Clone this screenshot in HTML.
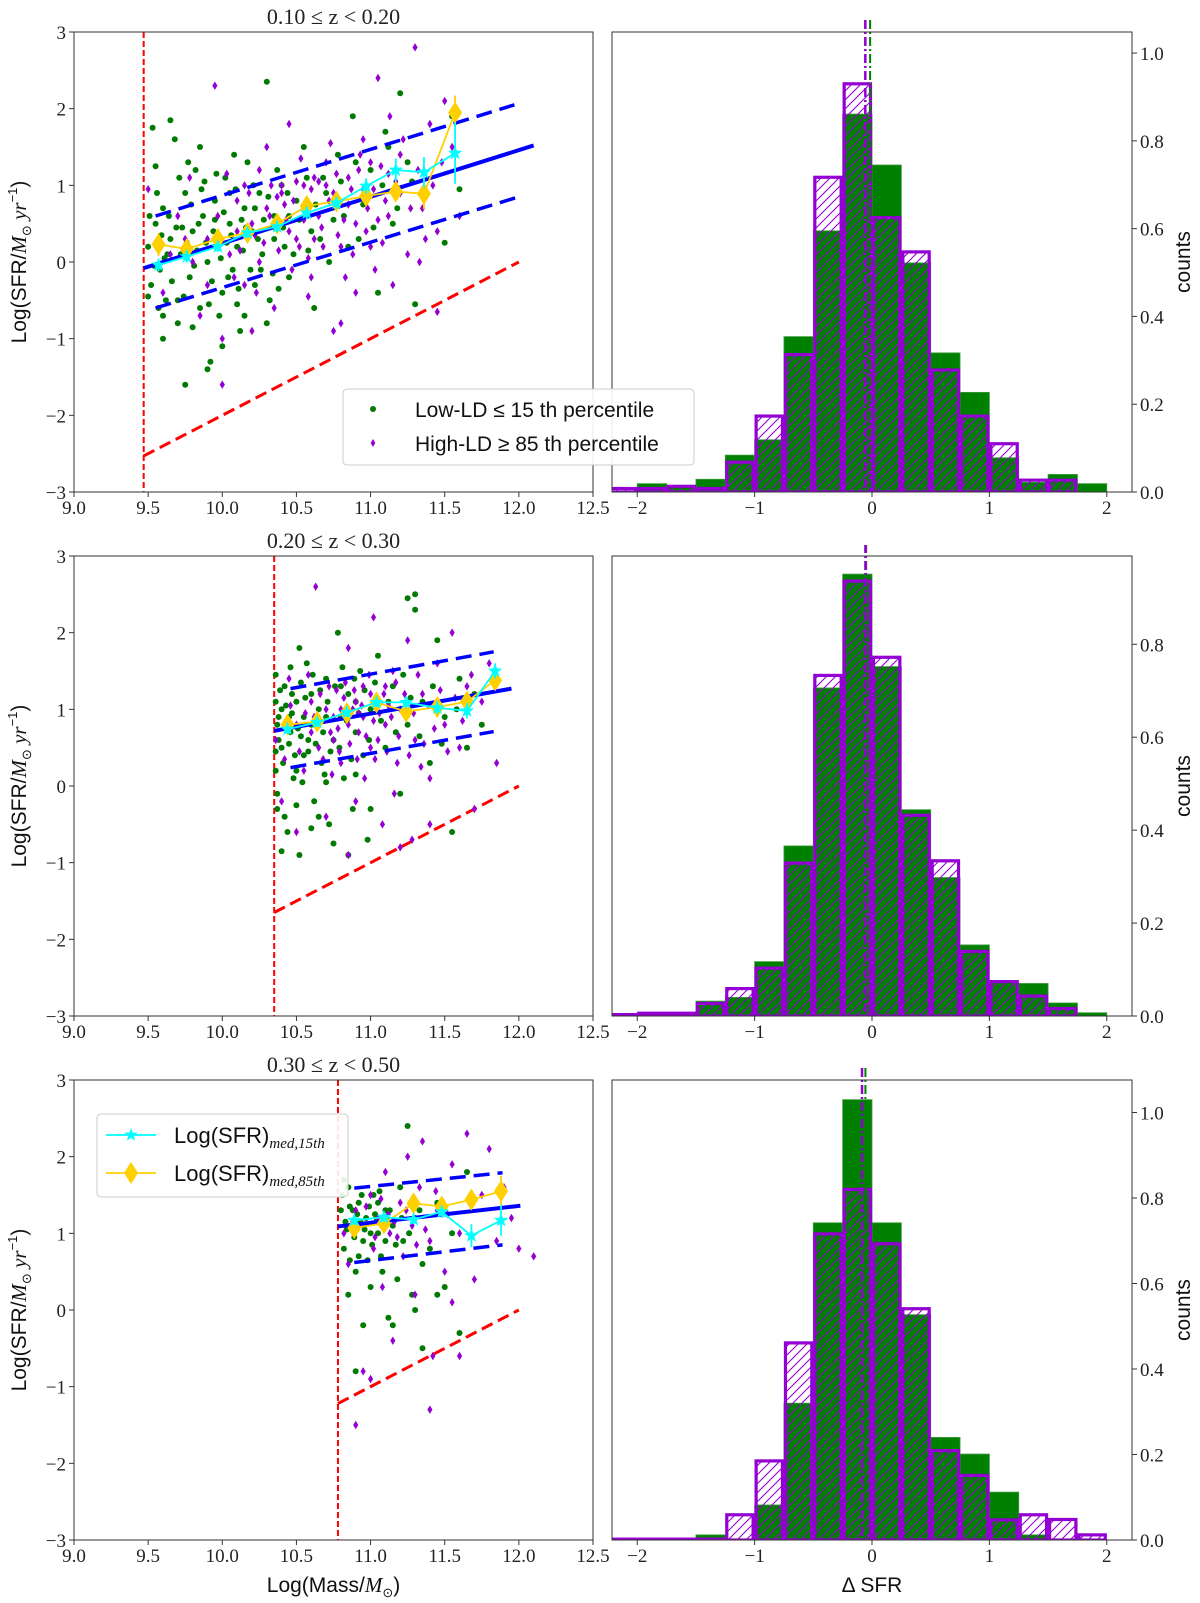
<!DOCTYPE html>
<html><head><meta charset="utf-8">
<style>
html,body{margin:0;padding:0;background:#fff;}
svg{display:block;}
.tk{font-family:"Liberation Serif",serif;font-size:19px;fill:#222;}
.lbl{font-family:"Liberation Sans",sans-serif;font-size:21px;fill:#111;}
</style></head>
<body>
<svg id="fig" width="1200" height="1603" viewBox="0 0 1200 1603" xmlns="http://www.w3.org/2000/svg">
<defs>
<pattern id="hatch" patternUnits="userSpaceOnUse" width="9" height="9">
<path d="M-2,11 L11,-2 M-2,2 L2,-2 M7,11 L11,7" stroke="#9400D3" stroke-width="1.1"/>
</pattern>
<clipPath id="cl0"><rect x="74" y="32" width="519" height="460"/></clipPath>
<clipPath id="cl1"><rect x="74" y="556" width="519" height="460"/></clipPath>
<clipPath id="cl2"><rect x="74" y="1080" width="519" height="460"/></clipPath>
<clipPath id="cr0"><rect x="612" y="20" width="520" height="472"/></clipPath>
<clipPath id="cr1"><rect x="612" y="545" width="520" height="471"/></clipPath>
<clipPath id="cr2"><rect x="612" y="1068" width="520" height="472"/></clipPath>
</defs>
</svg>
<script>
// ---------- DATA ----------
const rowTitles = ["0.10 \u2264 z < 0.20","0.20 \u2264 z < 0.30","0.30 \u2264 z < 0.50"];
const massTicks = [9.0,9.5,10.0,10.5,11.0,11.5,12.0,12.5];
const sfrTicks = [-3,-2,-1,0,1,2,3];
const dTicks = [-2,-1,0,1,2];
const countTicks0 = [0.0,0.2,0.4,0.6,0.8,1.0];
const countTicks1 = [0.0,0.2,0.4,0.6,0.8];
const countTicks2 = [0.0,0.2,0.4,0.6,0.8,1.0];
const countMax = [1.048,0.99,1.076];
const massLimit = [9.47,10.35,10.78];

const binStart = -2.25, binWidth = 0.25;
const green0 = [0,0.019,0.013,0.029,0.084,0.119,0.354,0.595,0.861,0.745,0.522,0.317,0.227,0.078,0.022,0.040,0.019];
const purple0 = [0.008,0.008,0.013,0.008,0.068,0.173,0.313,0.717,0.930,0.625,0.547,0.278,0.173,0.110,0.027,0.027,0];
const green1 = [0,0.006,0.004,0.032,0.040,0.117,0.366,0.706,0.951,0.752,0.444,0.298,0.153,0.072,0.070,0.028,0.007];
const purple1 = [0.003,0.006,0.006,0.027,0.059,0.103,0.329,0.733,0.936,0.772,0.432,0.334,0.139,0.074,0.043,0.016,0];
const green2 = [0,0,0,0.012,0,0.082,0.320,0.742,1.03,0.742,0.527,0.240,0.201,0.112,0.012,0,0];
const purple2 = [0.002,0.002,0.002,0.002,0.059,0.185,0.461,0.716,0.820,0.693,0.541,0.209,0.151,0.047,0.059,0.048,0.012];
const medPurple = [-0.057,-0.056,-0.085];
const medGreen = [-0.016,-0.05,-0.056];

const msSolid = [[9.47,-0.08,12.1,1.52],[10.35,0.72,11.95,1.27],[10.78,1.09,12.01,1.36]];
const msUpper = [[9.55,0.6,11.97,2.05],[10.46,1.27,11.83,1.75],[10.89,1.59,11.89,1.79]];
const msLower = [[9.55,-0.6,12.0,0.85],[10.46,0.24,11.83,0.71],[10.89,0.62,11.89,0.85]];
const cutEnd = [12.0,0.0];

const medMass0 = [9.57,9.76,9.97,10.17,10.37,10.57,10.77,10.97,11.17,11.36,11.57];
const medCyan0 = [-0.04,0.07,0.2,0.38,0.46,0.64,0.77,0.99,1.2,1.17,1.42];
const errCyan0 = [0.08,0.08,0.07,0.07,0.07,0.08,0.08,0.1,0.15,0.2,0.4];
const medGold0 = [0.23,0.17,0.30,0.38,0.50,0.73,0.79,0.86,0.92,0.89,1.95];
const errGold0 = [0.15,0.1,0.08,0.08,0.08,0.1,0.08,0.1,0.1,0.2,0.22];
const medMass1 = [10.44,10.64,10.84,11.04,11.24,11.45,11.65,11.84];
const medCyan1 = [0.74,0.83,0.96,1.09,1.09,1.02,0.98,1.50];
const errCyan1 = [0.06,0.06,0.06,0.06,0.08,0.08,0.1,0.1];
const medGold1 = [0.80,0.84,0.95,1.09,0.97,1.03,1.10,1.38];
const errGold1 = [0.06,0.06,0.06,0.06,0.08,0.08,0.12,0.12];
const medMass2 = [10.89,11.09,11.29,11.48,11.68,11.88];
const medCyan2 = [1.17,1.21,1.18,1.28,0.97,1.17];
const errCyan2 = [0.06,0.06,0.06,0.08,0.15,0.2];
const medGold2 = [1.07,1.13,1.39,1.35,1.44,1.55];
const errGold2 = [0.06,0.06,0.06,0.08,0.1,0.2];

const lowLD0a = [[9.5,0.2],[9.52,-0.3],[9.55,0.5],[9.58,-0.1],[9.6,0.7],[9.62,-0.5],[9.65,0.3],[9.68,1.6],[9.7,-0.8],[9.72,0.1],[9.75,0.9],[9.78,-0.2],[9.8,0.4],[9.82,1.2],[9.85,-0.6],[9.87,0.6],[9.9,0.0],[9.92,-1.3],[9.95,0.8],[9.97,0.3],[10.0,-0.4],[10.02,1.1],[10.05,0.5],[10.07,-0.1],[10.1,0.2],[10.12,-0.9],[10.15,0.7],[10.17,1.3],[10.2,0.4],[10.22,-0.3],[10.25,0.9],[10.27,0.1],[10.3,2.35],[10.32,-0.5],[10.35,0.6],[10.4,1.0],[10.42,0.2],[10.45,-0.2],[10.5,0.8],[10.55,1.5],[10.6,0.4],[10.62,-0.6],[10.68,1.1],[10.72,0.0],[10.78,1.4],[10.82,0.6],[10.88,1.9],[10.92,0.3],[11.0,1.2],[11.05,-0.4],[11.1,1.7],[11.15,0.5],[11.2,2.2],[11.25,1.3],[11.3,-0.55],[11.35,0.9],[11.5,0.25],[11.55,1.9],[11.6,0.95],[9.6,-1.0],[9.75,-1.6],[9.9,-1.4],[10.0,-1.1],[9.65,1.85],[9.85,1.5],[10.15,-0.7],[10.45,0.6],[9.53,1.75],[10.22,0.7],[10.35,0.3],[9.95,0.55],[10.05,0.9],[9.63,0.1],[9.73,0.45],[9.83,0.15],[9.93,-0.25],[10.03,0.25],[10.13,0.55],[10.26,-0.1],[9.57,-0.6],[9.88,1.05],[10.08,1.4],[9.98,-0.7],[10.38,-0.35],[10.58,0.15]];
const lowLD0b = [[9.51,0.6],[9.54,-0.05],[9.56,0.9],[9.59,0.35],[9.61,0.05],[9.64,0.6],[9.66,-0.25],[9.69,0.45],[9.71,1.1],[9.74,-0.45],[9.76,0.25],[9.79,0.75],[9.81,-0.05],[9.84,0.5],[9.86,0.95],[9.89,0.25],[9.91,-0.55],[9.94,0.4],[9.96,1.15],[9.99,0.05],[10.01,0.65],[10.04,-0.2],[10.06,0.35],[10.09,0.95],[10.11,-0.35],[10.14,0.15],[10.16,0.45],[10.19,-0.1],[10.21,1.0],[10.24,0.3],[10.28,0.55],[10.31,0.85],[10.34,-0.15],[10.37,1.2],[10.41,0.45],[10.44,0.9],[10.48,0.1],[10.52,0.55],[10.57,1.1],[10.63,0.75],[10.66,0.3],[10.7,0.9],[10.75,0.55],[10.8,1.05],[10.85,0.2],[10.9,1.3],[10.95,0.75],[11.02,0.45],[11.08,1.0],[11.12,1.5],[11.18,0.7],[11.28,1.05],[9.6,-0.7],[9.7,-0.5],[9.8,-0.85],[10.1,-0.55],[10.3,-0.8],[9.5,-0.45],[9.55,1.25],[9.77,1.3]];
const highLD0a = [[9.5,0.95],[9.6,-0.4],[9.7,0.6],[9.78,1.1],[9.85,-0.7],[9.9,0.3],[9.95,2.3],[10.0,-1.0],[10.05,0.1],[10.1,0.8],[10.15,-0.3],[10.2,0.5],[10.25,1.2],[10.3,0.7],[10.35,-0.6],[10.4,0.9],[10.45,1.8],[10.5,0.3],[10.55,1.0],[10.6,-0.2],[10.65,0.6],[10.7,1.3],[10.75,0.9],[10.8,-0.8],[10.85,1.1],[10.9,0.5],[10.95,1.6],[11.0,0.2],[11.05,2.4],[11.1,0.8],[11.15,-0.3],[11.2,1.4],[11.25,0.1],[11.3,2.8],[11.35,0.7],[11.4,1.8],[11.45,0.4],[11.5,2.1],[11.55,1.5],[11.6,0.6],[10.4,1.0],[10.5,1.05],[10.6,0.95],[10.7,1.0],[10.45,0.4],[10.55,0.55],[10.8,0.2],[10.9,-0.4],[11.0,1.3],[10.25,0.0],[10.35,0.45],[10.1,0.4],[9.8,0.0],[9.9,-0.3],[11.45,-0.65],[10.75,-0.9],[10.2,-0.9],[10.0,-1.6],[10.3,1.5],[11.2,0.9],[10.65,1.05],[10.85,0.75],[10.95,0.95],[11.05,0.55],[10.42,0.75],[10.62,0.3],[11.12,1.15],[10.18,0.9],[10.28,0.25]];
const highLD0b = [[10.12,0.15],[10.22,0.35],[10.32,0.6],[10.38,0.15],[10.43,0.55],[10.48,0.8],[10.52,0.2],[10.57,0.75],[10.62,1.1],[10.67,0.45],[10.72,0.8],[10.77,1.15],[10.82,0.55],[10.87,0.95],[10.92,1.2],[10.97,0.4],[11.02,0.95],[11.07,1.25],[11.12,0.6],[11.17,1.05],[11.22,1.6],[11.27,0.7],[11.32,1.2],[11.37,0.3],[11.42,1.0],[11.48,1.3],[10.47,-0.1],[10.58,0.05],[10.68,0.2],[10.78,0.35],[10.88,0.1],[10.98,0.7],[11.08,0.25],[10.33,1.0],[10.53,1.35],[10.73,1.55],[10.93,1.4],[11.13,1.9],[9.97,0.6],[10.03,1.15],[10.08,-0.2],[9.75,0.3],[9.65,0.1],[10.15,1.0],[10.23,-0.4],[10.37,0.85],[10.58,-0.45],[10.83,-0.2],[11.03,-0.1],[11.33,0.0]];
const lowLD1a = [[10.36,0.2],[10.37,-0.3],[10.38,0.9],[10.4,0.5],[10.42,1.3],[10.44,-0.6],[10.46,0.7],[10.48,0.1],[10.5,1.1],[10.52,-0.9],[10.55,0.4],[10.57,1.6],[10.6,0.8],[10.62,-0.2],[10.65,1.0],[10.67,0.3],[10.7,1.4],[10.72,-0.5],[10.75,0.6],[10.78,2.0],[10.8,0.9],[10.82,0.1],[10.85,1.2],[10.88,-0.3],[10.9,0.7],[10.93,1.5],[10.95,0.4],[10.98,-0.7],[11.0,1.0],[11.05,1.7],[11.1,0.5],[11.15,1.3],[11.2,-0.1],[11.25,0.8],[11.3,2.3],[11.35,1.1],[11.4,0.3],[11.45,1.9],[11.5,0.9],[11.55,-0.6],[11.6,1.4],[11.65,0.5],[11.7,1.2],[11.75,0.8],[10.4,1.0],[10.45,0.9],[10.55,0.9],[10.6,1.2],[10.7,0.9],[10.8,1.3],[10.9,1.1],[10.5,0.2],[10.65,-0.4],[10.85,-0.9],[11.3,2.5],[11.25,2.45],[10.4,-0.85],[10.75,-0.75],[10.38,0.6],[10.43,0.75],[10.53,0.65],[10.58,0.45],[10.68,0.7],[10.36,1.1],[10.47,1.2]];
const lowLD1b = [[10.36,0.45],[10.37,0.8],[10.39,1.25],[10.41,0.3],[10.43,1.05],[10.45,0.55],[10.47,0.95],[10.49,0.4],[10.51,0.75],[10.53,1.35],[10.54,0.05],[10.56,1.15],[10.58,0.6],[10.61,1.45],[10.63,0.55],[10.66,1.25],[10.69,0.15],[10.71,1.1],[10.73,0.45],[10.76,1.3],[10.79,0.5],[10.81,1.55],[10.84,0.85],[10.87,0.35],[10.89,1.4],[10.92,0.95],[10.96,1.25],[10.99,0.6],[11.03,1.35],[11.07,0.85],[11.12,1.1],[11.17,0.7],[11.22,1.45],[11.27,1.15],[11.33,0.65],[11.42,1.3],[11.48,0.55],[11.58,1.0],[10.37,-0.1],[10.42,-0.4],[10.5,-0.25],[10.6,-0.55],[10.7,0.05],[10.9,0.15],[11.0,-0.3],[10.36,1.45],[10.46,1.55],[10.52,1.8]];
const highLD1a = [[10.36,0.6],[10.4,-0.2],[10.45,1.4],[10.5,0.8],[10.55,0.2],[10.6,1.1],[10.63,2.6],[10.65,0.5],[10.7,-0.4],[10.72,1.3],[10.75,0.9],[10.8,0.3],[10.85,1.8],[10.88,1.0],[10.9,-0.2],[10.92,0.7],[10.95,1.3],[11.0,0.5],[11.02,2.2],[11.05,1.1],[11.08,-0.5],[11.1,0.8],[11.15,1.5],[11.18,0.3],[11.2,1.0],[11.25,1.9],[11.28,-0.7],[11.3,0.6],[11.35,1.2],[11.4,0.1],[11.45,1.6],[11.5,0.8],[11.55,2.0],[11.6,0.5],[11.65,1.3],[11.7,-0.3],[11.75,1.1],[11.8,1.6],[11.85,0.3],[10.8,1.0],[10.85,0.8],[10.9,1.1],[10.95,0.9],[11.0,1.2],[10.75,0.6],[10.7,1.0],[11.05,0.6],[11.1,1.3],[10.6,0.7],[11.2,-0.8],[10.5,-0.6],[11.4,-0.5],[10.85,-0.9],[10.82,1.15],[10.92,0.95],[11.02,0.85],[11.12,1.05],[10.78,0.75]];
const highLD1b = [[10.62,0.9],[10.66,1.2],[10.68,0.35],[10.73,0.7],[10.77,1.25],[10.79,0.45],[10.83,1.35],[10.86,0.55],[10.89,1.25],[10.91,0.35],[10.94,1.05],[10.97,0.65],[10.99,1.45],[11.03,0.35],[11.06,0.95],[11.09,1.2],[11.11,0.45],[11.14,0.9],[11.17,1.35],[11.19,0.65],[11.23,1.2],[11.26,0.4],[11.29,0.95],[11.32,1.45],[11.36,0.55],[11.39,1.05],[11.43,0.75],[11.47,1.25],[11.52,0.45],[11.57,1.15],[11.62,0.85],[11.68,1.45],[10.56,0.95],[10.52,0.45],[10.46,1.05],[10.42,0.35],[10.58,1.45],[10.74,0.15],[10.96,0.1],[11.16,-0.1],[11.34,0.25]];
const lowLD2 = [[10.8,1.3],[10.82,0.8],[10.85,1.6],[10.87,1.1],[10.9,0.5],[10.92,1.4],[10.95,0.9],[10.97,1.2],[11.0,0.3],[11.02,1.5],[11.05,1.0],[11.07,0.7],[11.1,1.3],[11.12,-0.1],[11.15,1.1],[11.18,0.4],[11.2,1.6],[11.22,0.9],[11.25,2.4],[11.28,0.2],[11.3,1.2],[11.35,-0.5],[11.4,0.8],[11.45,1.4],[11.5,0.3],[11.55,1.0],[11.6,-0.3],[11.65,1.8],[10.85,0.2],[10.9,-0.8],[10.95,-0.2],[11.0,1.0],[10.88,1.3],[11.05,1.4],[11.1,0.9],[11.15,-0.2],[10.82,1.7],[11.3,0.0],[11.45,0.2],[11.35,0.6],[10.84,1.05],[10.93,1.15],[11.03,1.25],[10.98,0.65],[10.81,1.5],[10.83,1.15],[10.86,1.35],[10.89,0.95],[10.91,1.25],[10.94,1.5],[10.96,1.05],[10.99,1.35],[11.01,0.85],[11.04,1.2],[11.06,1.55],[11.09,1.1],[11.13,1.3],[11.17,0.85],[11.21,1.2],[11.26,1.0],[11.33,1.3],[10.86,0.65],[10.92,0.7],[11.08,0.5]];
const highLD2 = [[10.82,1.0],[10.85,0.6],[10.9,1.3],[10.95,-0.8],[11.0,1.5],[11.02,0.8],[11.05,1.2],[11.08,0.3],[11.1,1.8],[11.13,1.0],[11.15,-0.4],[11.2,1.4],[11.22,0.7],[11.25,2.0],[11.28,1.1],[11.3,0.2],[11.33,1.6],[11.35,2.2],[11.4,0.9],[11.42,-0.6],[11.45,1.3],[11.5,0.5],[11.55,1.9],[11.6,1.0],[11.65,2.3],[11.7,0.4],[11.75,1.5],[11.8,2.1],[11.85,0.9],[11.9,1.6],[11.95,1.2],[12.0,0.8],[12.1,0.7],[11.4,-1.3],[11.0,-0.9],[10.9,-1.5],[11.55,0.1],[11.6,-0.6],[11.12,1.25],[11.18,0.95],[10.88,1.15],[10.97,1.35],[11.03,0.95],[11.07,1.45],[11.16,1.15],[11.24,1.3],[11.31,0.85],[11.37,1.05],[11.44,1.55],[11.52,1.25]];
const lowLD0 = lowLD0a.concat(lowLD0b);
const highLD0 = highLD0a.concat(highLD0b);
const lowLD1 = lowLD1a.concat(lowLD1b);
const highLD1 = highLD1a.concat(highLD1b);

// ---------- DRAWING ----------
const svg = document.getElementById('fig');
const NS = 'http://www.w3.org/2000/svg';
function mk(tag, attrs, parent){
  const e = document.createElementNS(NS, tag);
  for (const k in attrs) e.setAttribute(k, attrs[k]);
  (parent||svg).appendChild(e);
  return e;
}
const rowTop = [32,556,1080];
const PH = 460;
const LX0 = 74, LW = 519, RX0 = 612, RW = 520;
const lowSets = [lowLD0,lowLD1,lowLD2], highSets = [highLD0,highLD1,highLD2];
const greens = [green0,green1,green2], purples = [purple0,purple1,purple2];
const cTicks = [countTicks0,countTicks1,countTicks2];
const mMass = [medMass0,medMass1,medMass2], mCy = [medCyan0,medCyan1,medCyan2], eCy=[errCyan0,errCyan1,errCyan2];
const mGo = [medGold0,medGold1,medGold2], eGo=[errGold0,errGold1,errGold2];

function starPath(cx,cy,r){
  let d='';
  for(let i=0;i<10;i++){
    const a = -Math.PI/2 + i*Math.PI/5;
    const rr = i%2===0 ? r : r*0.42;
    d += (i===0?'M':'L') + (cx+rr*Math.cos(a)).toFixed(1)+','+(cy+rr*Math.sin(a)).toFixed(1);
  }
  return d+'Z';
}

for (let r=0;r<3;r++){
  const top = rowTop[r], bot = top+PH;
  const xs = m => LX0 + (m-9)/3.5*LW;
  const ys = v => top + (3-v)/6*PH;
  const gL = mk('g',{'clip-path':'url(#cl'+r+')'});
  
  

  const rv = mk('line',{x1:xs(massLimit[r]),y1:top,x2:xs(massLimit[r]),y2:bot,stroke:'#ff0000','stroke-width':2,'stroke-dasharray':'6,3'},gL);
  
  
  const rd = mk('line',{x1:xs(massLimit[r]),y1:ys(massLimit[r]-12),x2:xs(cutEnd[0]),y2:ys(cutEnd[1]),stroke:'#ff0000','stroke-width':3,'stroke-dasharray':'12,6'},gL);
  
  

  lowSets[r].forEach(p=>{
    const c = mk('circle',{cx:xs(p[0]).toFixed(1),cy:ys(p[1]).toFixed(1),r:3,fill:'#007a00'},gL);
    
    
  });
  highSets[r].forEach(p=>{
    const x=xs(p[0]), y=ys(p[1]);
    const d = mk('path',{d:`M${x},${y-4.2} L${x+2.6},${y} L${x},${y+4.2} L${x-2.6},${y}Z`,fill:'#9400D3'},gL);
    
    
  });

  [[msSolid,4,'none','ms-fit-line'],[msUpper,3.5,'16,8','ms-upper-line'],[msLower,3.5,'16,8','ms-lower-line']].forEach(([arr,w,da,nm])=>{
    const a = arr[r];
    const l = mk('line',{x1:xs(a[0]),y1:ys(a[1]),x2:xs(a[2]),y2:ys(a[3]),stroke:'#0000ff','stroke-width':w,'stroke-dasharray':da},gL);
    
    
  });

  const drawMed = (vals, errs, col, kind, nm) => {
    const pts = mMass[r].map((m,i)=>xs(m).toFixed(1)+','+ys(vals[i]).toFixed(1)).join(' ');
    const pl = mk('polyline',{points:pts,fill:'none',stroke:col,'stroke-width':1.8},gL);
    
    
    mMass[r].forEach((m,i)=>{
      const x=xs(m), y=ys(vals[i]);
      const eb = mk('line',{x1:x,y1:ys(vals[i]+errs[i]),x2:x,y2:ys(vals[i]-errs[i]),stroke:col,'stroke-width':1.8},gL);
      
      
      let mkr;
      if(kind==='star') mkr = mk('path',{d:starPath(x,y,7.5),fill:col},gL);
      else mkr = mk('path',{d:`M${x},${y-11} L${x+7},${y} L${x},${y+11} L${x-7},${y}Z`,fill:col},gL);
      
      
    });
  };
  drawMed(mGo[r], eGo[r], '#FFD000', 'diamond', 'median-85th');
  drawMed(mCy[r], eCy[r], '#00FFFF', 'star', 'median-15th');

  const fr = mk('rect',{x:LX0,y:top,width:LW,height:PH,fill:'none',stroke:'#333','stroke-width':1});
  
  
  sfrTicks.forEach(t=>{
    mk('line',{x1:LX0-5,y1:ys(t),x2:LX0,y2:ys(t),stroke:'#333'});
    const tx = mk('text',{x:LX0-8,y:ys(t)+7,'text-anchor':'end',class:'tk'});
    tx.textContent = t<0 ? '\u2212'+(-t) : String(t);
    
    
  });
  massTicks.forEach(t=>{
    mk('line',{x1:xs(t),y1:bot,x2:xs(t),y2:bot+5,stroke:'#333'});
    const tx = mk('text',{x:xs(t),y:bot+22,'text-anchor':'middle',class:'tk'});
    tx.textContent = t.toFixed(1);
    
    
  });
  const tt = mk('text',{x:LX0+LW/2,y:top-8,'text-anchor':'middle',class:'tk',style:'font-size:22px'});
  tt.textContent = rowTitles[r];
  
  
  const yl = mk('text',{x:0,y:0,'text-anchor':'middle',class:'lbl',transform:`translate(26,${top+PH/2}) rotate(-90)`});
  yl.innerHTML = 'Log(SFR/<tspan font-family="Liberation Serif" font-style="italic">M</tspan><tspan font-size="13" dy="5">\u2299</tspan><tspan dy="-5" font-family="Liberation Serif" font-style="italic"> yr</tspan><tspan font-size="13" dy="-9">\u22121</tspan><tspan dy="9">)</tspan>';
  
  

  // ---------- histogram ----------
  const xh = d => RX0 + (d+2.215)/4.43*RW;
  const yh = v => bot - v/countMax[r]*PH;
  const gR = mk('g',{'clip-path':'url(#cr'+r+')'});
  
  
  greens[r].forEach((v,i)=>{
    if(v<=0) return;
    const x0=xh(binStart+i*binWidth), x1=xh(binStart+(i+1)*binWidth);
    const b = mk('rect',{x:x0,y:yh(v),width:x1-x0,height:bot-yh(v),fill:'#008000',stroke:'#3a9a3a','stroke-width':0.8},gR);
    
    
  });
  purples[r].forEach((v,i)=>{
    if(v<=0) return;
    const x0=xh(binStart+i*binWidth), x1=xh(binStart+(i+1)*binWidth);
    const b = mk('rect',{x:x0+1.5,y:yh(v),width:x1-x0-3,height:bot-yh(v),fill:'url(#hatch)',stroke:'#9400D3','stroke-width':3.2},gR);
    
    
  });
  const vg = mk('line',{x1:xh(medGreen[r]),y1:top-12,x2:xh(medGreen[r]),y2:bot,stroke:'#008000','stroke-width':2,'stroke-dasharray':'9,3,2,3'},gR);
  
  
  const vp = mk('line',{x1:xh(medPurple[r]),y1:top-12,x2:xh(medPurple[r]),y2:bot,stroke:'#9400D3','stroke-width':2.5,'stroke-dasharray':'9,3,2,3'},gR);
  
  

  const fr2 = mk('rect',{x:RX0,y:top,width:RW,height:PH,fill:'none',stroke:'#333','stroke-width':1});
  
  
  dTicks.forEach(t=>{
    mk('line',{x1:xh(t),y1:bot,x2:xh(t),y2:bot+5,stroke:'#333'});
    const tx = mk('text',{x:xh(t),y:bot+22,'text-anchor':'middle',class:'tk'});
    tx.textContent = t<0 ? '\u2212'+(-t) : String(t);
    
    
  });
  cTicks[r].forEach(t=>{
    mk('line',{x1:RX0+RW,y1:yh(t),x2:RX0+RW+5,y2:yh(t),stroke:'#333'});
    const tx = mk('text',{x:RX0+RW+8,y:yh(t)+7,'text-anchor':'start',class:'tk'});
    tx.textContent = t.toFixed(1);
    
    
  });
  const cl = mk('text',{x:0,y:0,'text-anchor':'middle',class:'lbl',transform:`translate(1190,${top+PH/2}) rotate(-90)`});
  cl.textContent = 'counts';
  
  
}

const xl1 = mk('text',{x:LX0+LW/2,y:1592,'text-anchor':'middle',class:'lbl'});
xl1.innerHTML = 'Log(Mass/<tspan font-family="Liberation Serif" font-style="italic">M</tspan><tspan font-size="13" dy="5">\u2299</tspan><tspan dy="-5">)</tspan>';


const xl2 = mk('text',{x:RX0+RW/2,y:1592,'text-anchor':'middle',class:'lbl'});
xl2.textContent = '\u0394 SFR';



const lg1 = mk('g',{});


mk('rect',{x:343,y:389,width:351,height:76,rx:4,fill:'#fff','fill-opacity':0.9,stroke:'#ccc'},lg1);
const d1 = mk('circle',{cx:373,cy:409,r:3,fill:'#007a00'},lg1);


const t1 = mk('text',{x:415,y:417,class:'lbl'},lg1);
t1.textContent = 'Low-LD \u2264 15 th percentile';


const d2 = mk('path',{d:'M373,439 L375.3,443 L373,447 L370.7,443Z',fill:'#9400D3'},lg1);


const t2 = mk('text',{x:415,y:451,class:'lbl'},lg1);
t2.textContent = 'High-LD \u2265 85 th percentile';



const lg2 = mk('g',{});


mk('rect',{x:97,y:1114,width:251,height:83,rx:4,fill:'#fff','fill-opacity':0.9,stroke:'#ccc'},lg2);
mk('line',{x1:106,y1:1135,x2:156,y2:1135,stroke:'#00FFFF','stroke-width':1.8},lg2);
mk('path',{d:starPath(131,1135,7),fill:'#00FFFF'},lg2);
mk('line',{x1:106,y1:1173,x2:156,y2:1173,stroke:'#FFD000','stroke-width':1.8},lg2);
mk('path',{d:'M131,1162 L138,1173 L131,1184 L124,1173Z',fill:'#FFD000'},lg2);
const t3 = mk('text',{x:174,y:1143,class:'lbl',style:'font-size:22px'},lg2);
t3.innerHTML = 'Log(SFR)<tspan font-family="Liberation Serif" font-style="italic" font-size="15" dy="5">med,15th</tspan>';


const t4 = mk('text',{x:174,y:1181,class:'lbl',style:'font-size:22px'},lg2);
t4.innerHTML = 'Log(SFR)<tspan font-family="Liberation Serif" font-style="italic" font-size="15" dy="5">med,85th</tspan>';


</script>
</body></html>
